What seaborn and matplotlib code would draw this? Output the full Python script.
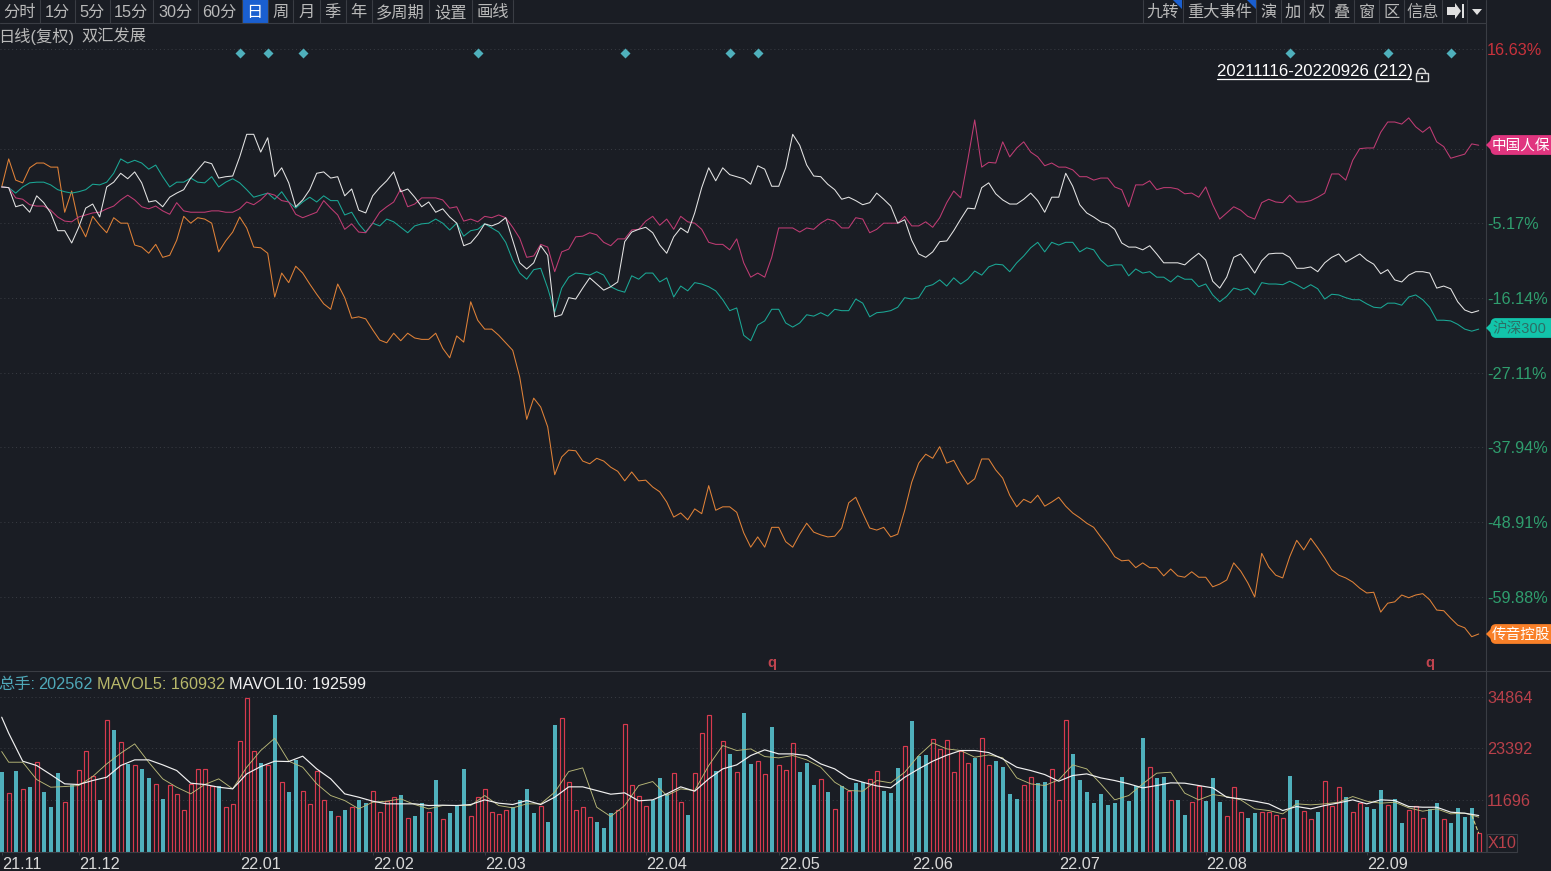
import numpy as np
import pandas as pd
import matplotlib
matplotlib.use("Agg")
import matplotlib.pyplot as plt
import seaborn as sns
from matplotlib.patches import FancyBboxPatch, Polygon, Rectangle, Arc

# cumulative change in percent, one value per trading day
shuanghui = [
    0.1,0.0,-2.8,-2.5,-3.6,-1.2,-2.2,-3.7,-6.3,-6.3,
    -8.1,-5.8,-3.0,-2.4,-4.3,0.1,0.8,2.1,1.3,2.3,
    0.7,-2.1,-1.9,-2.8,-1.4,-0.8,-0.3,1.4,2.6,3.8,
    3.5,1.4,1.6,1.7,4.5,7.8,7.8,5.2,7.3,1.6,
    2.9,0.7,-2.8,-1.8,-0.3,2.1,2.3,1.4,1.6,-1.2,
    -0.2,-3.3,-3.7,-1.2,0.0,1.0,2.3,-0.6,-0.2,-1.4,
    -2.8,-2.1,-3.6,-3.1,-4.3,-5.2,-8.5,-8.1,-6.9,-5.3,
    -5.6,-5.2,-4.4,-7.7,-11.0,-11.9,-11.0,-8.5,-9.9,-18.9,
    -18.6,-16.1,-16.3,-14.7,-13.2,-14.1,-15.0,-14.5,-13.8,-7.9,
    -6.5,-6.1,-5.8,-6.6,-8.4,-9.6,-7.2,-5.9,-6.6,-3.7,
    0.0,2.9,1.0,2.9,1.9,1.6,1.3,0.5,3.2,2.7,
    0.2,0.2,2.9,7.8,6.2,3.3,1.7,1.6,0.5,-0.3,
    -1.7,-1.4,-1.9,-2.5,-2.2,-0.8,-1.7,-2.7,-5.2,-4.7,
    -7.7,-9.7,-10.2,-9.4,-7.9,-7.8,-6.3,-4.6,-3.0,-3.1,
    0.0,0.7,-0.9,-1.8,-2.4,-2.4,-1.7,-0.8,-1.9,-3.6,
    -1.4,-1.4,2.1,0.2,-2.5,-3.7,-4.3,-5.0,-5.3,-6.1,
    -8.1,-8.7,-8.7,-9.1,-8.5,-9.7,-11.0,-11.0,-11.0,-11.3,
    -10.4,-9.6,-10.6,-13.7,-14.7,-13.1,-10.2,-9.7,-11.0,-12.5,
    -10.7,-9.7,-9.6,-9.6,-10.2,-11.8,-11.8,-11.6,-12.3,-11.0,
    -10.2,-9.7,-10.9,-10.3,-9.7,-10.6,-11.2,-12.6,-12.0,-13.5,
    -13.8,-12.8,-12.3,-12.3,-12.5,-14.7,-14.4,-14.8,-16.7,-17.9,-18.3,-18.0,
]
hs300 = [
    0.1,0.0,-0.8,0.1,0.7,0.8,0.8,0.4,-0.3,-0.6,
    -0.8,-0.6,-0.3,0.5,0.4,0.8,2.1,4.2,3.6,4.0,
    3.6,2.7,3.3,1.6,0.1,0.8,0.8,1.4,0.8,0.7,
    1.6,0.1,0.8,1.3,0.7,-0.3,-1.4,-1.1,-0.8,-1.7,
    -0.6,-2.1,-3.0,-2.1,-1.4,-2.1,-1.2,-1.9,-1.9,-4.0,
    -3.6,-5.3,-6.5,-5.2,-5.6,-4.6,-5.0,-5.8,-6.6,-5.6,
    -5.3,-5.2,-4.6,-5.2,-6.2,-5.2,-7.1,-6.3,-6.1,-5.3,
    -5.9,-6.5,-8.0,-10.6,-12.5,-13.4,-12.0,-11.8,-14.7,-18.2,
    -14.7,-13.1,-12.5,-12.6,-12.8,-12.3,-12.8,-14.5,-15.0,-15.3,
    -12.9,-13.4,-12.5,-12.5,-13.8,-13.2,-16.0,-14.4,-15.1,-13.9,
    -14.1,-14.5,-15.1,-16.4,-18.0,-17.6,-21.6,-22.4,-20.1,-19.5,
    -17.8,-17.8,-19.8,-20.4,-19.8,-18.6,-18.8,-18.3,-18.8,-17.8,
    -18.0,-18.0,-16.3,-16.9,-18.9,-18.3,-18.2,-18.0,-17.5,-16.1,
    -16.3,-16.1,-14.5,-14.2,-13.5,-14.4,-13.2,-14.1,-13.4,-12.2,
    -12.8,-11.6,-11.2,-11.3,-12.3,-11.0,-10.0,-8.8,-8.0,-9.4,
    -8.0,-8.4,-8.0,-8.0,-9.4,-8.8,-9.1,-10.6,-11.5,-11.3,
    -11.3,-12.9,-11.9,-12.5,-12.3,-13.1,-13.1,-13.8,-12.9,-13.4,
    -13.4,-14.5,-14.1,-15.7,-16.7,-15.9,-14.7,-15.0,-14.7,-15.7,
    -13.9,-14.1,-14.1,-14.2,-13.7,-14.2,-14.8,-14.2,-14.8,-16.3,
    -15.6,-15.7,-16.1,-16.4,-16.4,-17.0,-17.5,-17.6,-16.9,-16.9,
    -17.2,-16.0,-15.7,-16.4,-17.5,-19.4,-19.4,-19.5,-20.0,-20.7,-21.0,-20.7,
]
picc = [
    0.1,0.0,-1.5,-1.7,-2.5,-2.7,-2.7,-3.3,-4.3,-4.9,
    -5.0,-4.3,-4.0,-3.7,-3.6,-3.1,-2.7,-1.8,-1.1,-1.8,
    -2.8,-3.1,-2.7,-3.4,-3.9,-2.2,-3.4,-3.6,-3.6,-3.6,
    -3.4,-3.4,-3.6,-3.6,-3.1,-2.1,-2.5,-1.8,-0.8,-1.1,
    -1.9,-2.1,-3.9,-4.4,-4.0,-3.6,-1.9,-3.0,-4.0,-6.1,
    -5.3,-6.5,-6.6,-5.2,-3.6,-2.8,-2.1,-0.2,-2.8,-2.4,
    -1.5,-1.5,-1.5,-1.8,-3.0,-2.8,-4.9,-4.6,-5.0,-4.2,
    -4.4,-4.0,-4.4,-5.8,-7.4,-10.2,-10.0,-8.3,-8.7,-12.3,
    -9.4,-9.0,-7.2,-7.1,-6.6,-6.9,-8.0,-8.5,-7.5,-7.5,
    -6.2,-6.1,-4.9,-4.2,-5.5,-4.6,-6.1,-4.2,-5.0,-5.2,
    -6.1,-8.0,-8.3,-8.3,-9.1,-7.5,-11.0,-13.1,-12.5,-13.1,
    -10.2,-5.9,-5.9,-5.9,-6.5,-5.9,-6.1,-5.2,-4.6,-4.9,
    -5.9,-5.9,-4.4,-4.6,-6.6,-6.1,-5.2,-5.2,-5.2,-4.2,
    -5.6,-5.6,-5.0,-5.8,-4.4,-2.2,-0.5,-1.5,4.0,9.9,
    3.0,3.7,3.6,6.7,4.5,5.8,6.7,5.2,4.5,3.2,
    3.6,3.0,3.0,2.6,1.6,1.6,1.1,1.4,1.4,0.1,
    -0.3,-2.8,0.4,0.4,1.0,-0.3,0.0,0.0,-0.2,-0.9,
    -0.8,-1.4,0.1,-2.5,-4.6,-3.7,-2.8,-3.3,-4.2,-4.6,
    -2.2,-1.7,-2.1,-2.2,-1.1,-2.1,-2.1,-1.9,-1.4,-0.8,
    2.0,2.0,1.1,4.0,5.7,5.8,5.8,8.1,9.6,9.6,
    9.3,10.2,8.9,8.1,8.9,6.7,6.0,4.3,4.6,4.9,6.4,6.2,
]
transsion = [
    0.1,4.2,1.1,0.7,2.9,3.6,3.6,3.0,3.0,-3.6,
    -0.5,-5.2,-7.2,-4.2,-5.5,-6.6,-4.4,-5.2,-5.2,-8.4,
    -8.7,-9.6,-8.3,-10.2,-9.9,-7.7,-4.2,-5.2,-4.4,-4.6,
    -5.2,-9.4,-7.8,-6.5,-4.3,-5.9,-8.7,-8.8,-9.6,-16.0,
    -12.5,-13.9,-11.5,-12.5,-14.1,-15.6,-17.0,-17.8,-14.1,-16.1,
    -19.1,-18.9,-19.2,-20.8,-22.3,-22.7,-21.3,-22.4,-21.3,-22.0,
    -22.2,-22.2,-21.3,-23.5,-24.9,-21.7,-22.6,-16.7,-19.4,-20.7,
    -20.7,-21.6,-22.7,-23.8,-27.7,-33.9,-30.8,-32.1,-35.0,-42.0,
    -39.4,-38.4,-38.5,-40.0,-40.4,-39.6,-40.0,-40.9,-41.5,-42.9,
    -41.6,-42.9,-42.8,-43.8,-44.5,-46.0,-48.2,-47.6,-48.6,-47.0,
    -47.7,-43.6,-47.2,-46.7,-46.7,-47.5,-50.5,-52.6,-51.1,-52.6,
    -49.7,-49.7,-51.8,-52.6,-50.7,-49.1,-50.4,-50.8,-51.1,-51.0,
    -49.8,-46.1,-45.3,-47.6,-49.8,-50.1,-49.7,-51.1,-50.7,-47.2,
    -43.1,-40.3,-39.0,-39.6,-37.9,-40.3,-39.9,-41.8,-43.4,-42.6,
    -39.7,-39.7,-41.3,-42.5,-45.0,-46.7,-45.6,-46.1,-45.0,-46.6,
    -46.0,-45.3,-46.6,-47.6,-48.3,-49.1,-49.7,-51.1,-52.4,-54.0,
    -54.6,-54.5,-55.6,-54.9,-55.6,-55.6,-56.8,-55.8,-56.8,-57.0,
    -56.2,-57.0,-57.0,-58.4,-58.0,-57.4,-54.9,-56.1,-57.8,-59.9,
    -53.5,-55.5,-56.7,-57.1,-54.0,-51.6,-53.0,-51.3,-52.7,-54.2,
    -55.9,-56.7,-57.1,-57.7,-58.6,-59.3,-59.2,-62.1,-60.8,-60.6,
    -59.6,-60.0,-59.6,-59.4,-60.3,-61.8,-61.9,-63.0,-64.0,-64.4,-65.7,-65.3,
]

volume = [
    18070,13250,18300,14160,14680,20330,13550,10170,17770,11300,
    15060,18520,22820,17170,11750,29740,27560,24850,19800,19580,
    18750,16720,15360,11970,15140,13100,9490,15360,18670,18670,
    14910,14910,10170,10770,25000,34710,22820,20110,19650,30950,
    15810,13550,20780,13780,10770,18300,11750,9260,8130,9490,
    10170,11750,11070,13700,8960,11370,12420,12880,7680,8130,
    10990,9040,16260,7450,8810,10390,18750,8130,12420,14160,
    9040,8580,9490,10170,11750,14230,8810,10390,6780,28690,
    30200,15810,9490,10170,7910,6780,5420,8810,9490,28920,
    15140,12650,10390,11750,16720,13100,17850,11300,8360,17850,
    26880,30950,18300,25000,22140,18070,31400,19880,20560,17620,
    28240,19650,18520,24620,18070,20110,15140,16490,13550,9710,
    14910,13780,15590,15810,16490,18300,13780,13330,18980,23950,
    29590,21690,21910,25450,23270,25300,18070,22820,20110,21230,
    25750,19650,20560,19200,13100,11970,15140,16940,15590,15810,
    18750,11750,29820,22140,16260,13550,11070,13100,10620,11070,
    16940,11520,14910,25750,19200,16720,16940,11750,11750,8360,
    11300,14910,11520,16720,11300,8130,14610,9040,7680,8810,
    9040,9040,8360,7680,17170,11750,9260,7450,9040,16040,
    10390,14610,12420,9040,11070,10170,9710,14010,10620,11970,
    6330,9490,10390,7680,9710,11070,7450,6550,9940,7910,9940,4070,
]
# r = up day (hollow red), t = down day (filled teal)
bar_dir = list(
    "trtrtrtttr" "trrrtrtrtr" "ttrtrrrrrr" "rtrrrrrtrt" "rttrrrrtrt"
    "rttrrrrtrt" "trtrtttrrr" "rrrttttrtt" "rrrrrtttrr" "rrrtttrrtr"
    "rrtrtrttrr" "trrrtttrtr" "trttrrtttr" "tttrrrrrrt" "rrttttrrtt"
    "rrrttttttt" "ttttrttrtt" "rrtttrrrtt" "rrrrttrrtr" "rrtrrtttrt"
    "trrrttrttttr"
)

# moving averages read every other day: day 0, then 1, 3, 5 ... 211
ma_days = [0] + list(range(1, 212, 2))
mavol10 = [
    30350,26730,20410,19430,17390,15290,15140,16040,16790,19430,20710,20710,19580,18300,15440,15140,
    14530,14160,17540,19200,20410,20330,21540,18670,16420,13030,12270,11370,10770,10770,10770,10390,
    10470,10390,10620,11670,10920,10620,11520,10620,12270,14610,14610,13780,12950,13250,11450,11670,
    13030,14610,13630,16420,18670,19580,21690,22970,22060,22060,21690,19800,18670,16570,15660,14830,
    14380,16790,18670,20410,21760,22820,22820,22360,20930,19050,18300,17390,15890,17170,17540,16640,
    16040,15290,14380,14910,15510,15440,14910,14380,12270,11900,11370,10770,9260,10170,9640,10390,
    10990,11670,10770,11670,11520,10170,10010,10010,8890,8660,8130,
]
mavol5 = [
    22590,20180,20180,16260,14530,14680,14910,16940,19800,22210,24320,20180,16420,14530,13030,15140,
    16420,14160,19050,22820,25600,20410,19050,15290,12650,11520,9640,11140,11370,11900,10620,9640,
    10390,10390,10390,12650,10390,9860,10770,10770,13400,18070,18900,10010,7910,10390,14910,15810,
    12650,14160,13780,19430,23950,22820,23190,21460,21160,21690,20710,19050,15660,13780,13630,16040,
    15510,17920,21690,24550,23190,22820,21310,21840,21160,16640,15290,14910,16190,19580,18670,15290,
    11670,12650,15290,17700,17920,13180,11670,12880,12420,11670,9640,9260,8510,10770,10540,10770,
    11140,12420,11370,10920,11140,9860,9110,9640,8510,8660,7760,
]
ma5_tail_days = [210, 211]
ma5_tail = [8200, 4100]

# signal markers
diamond_days = [34, 38, 43, 68, 89, 104, 108, 184, 198, 207]
q_days = [110, 204]

# axis ticks: the top label sits on the panel's top rule, the one behind the pink tag is covered
pct_ticks = [20.28, 5.65, -5.17, -16.14, -27.11, -37.94, -48.91, -59.88]
pct_labels = ["16.63%", "", "-5.17%", "-16.14%", "-27.11%", "-37.94%", "-48.91%", "-59.88%"]
vol_ticks = [11696, 23392, 34864]
vol_labels = ["11696", "23392", "34864"]
month_days = [0, 11, 34, 53, 69, 92, 111, 130, 151, 172, 195]
month_labels = ["21.11", "21.12", "22.01", "22.02", "22.03", "22.04", "22.05", "22.06", "22.07", "22.08", "22.09"]

tabs_left = ["分时", "1分", "5分", "15分", "30分", "60分", "日", "周", "月", "季", "年", "多周期", "设置", "画线"]
tabs_left_edges = [0, 39.5, 74.5, 109.5, 153, 197.5, 241.5, 267.5, 293, 319.5, 345.5, 371.5, 429, 471.5, 513]
tabs_right = ["九转", "重大事件", "演", "加", "权", "叠", "窗", "区", "信息", "", ""]
tabs_right_edges = [1143, 1182.5, 1256, 1280.5, 1304, 1329, 1354, 1379, 1404, 1442, 1467, 1486]

BG = "#1a1d24"
LINE = "#3a3d44"
GREY = "#b9b9b9"
RED = "#c8323c"
GREEN = "#2f9e6e"
TEAL_BAR = "#4fb0bc"
RED_BAR = "#d83a4e"
series_colors = {"传音控股": "#e08238", "沪深300": "#1aa896", "中国人保": "#c03c74", "双汇发展": "#e4e4e4"}

sns.set_theme(style="dark", rc={"figure.facecolor": BG, "axes.facecolor": BG, "savefig.facecolor": BG})
plt.rcParams["font.family"] = ["Liberation Sans", "Noto Sans CJK SC", "DejaVu Sans"]
FS = 11.7

W, H = 1551, 871
fig = plt.figure(figsize=(W / 100, H / 100), dpi=100)
ax = fig.add_axes([0, (H - 671) / H, 1486 / W, (671 - 24) / H])
ax_vol = fig.add_axes([0, (H - 851.5) / H, 1486 / W, (851.5 - 671) / H])
xlim = (-0.243, 212.04)

df = pd.DataFrame({
    "day": np.tile(np.arange(212), 4),
    "pct": transsion + hs300 + picc + shuanghui,
    "stock": ["传音控股"] * 212 + ["沪深300"] * 212 + ["中国人保"] * 212 + ["双汇发展"] * 212,
})
sns.lineplot(data=df, x="day", y="pct", hue="stock", palette=series_colors, hue_order=list(series_colors),
             estimator=None, legend=False, linewidth=0.75, ax=ax)
sns.scatterplot(x=diamond_days, y=[19.7] * len(diamond_days), marker="D", s=26, color=TEAL_BAR, linewidth=0, ax=ax)
for d in q_days:
    ax.text(d, -69.55, "q", color="#c0444f", fontsize=10.5, fontweight="bold", ha="center", va="center")

ax.set_xlim(xlim)
ax.set_ylim(27.45 - 0.1463 * 671, 27.45 - 0.1463 * 24)
ax.set_xticks([])
ax.yaxis.tick_right()
ax.set_yticks(pct_ticks)
ax.set_yticklabels(pct_labels, fontsize=FS)
for lab, val in zip(ax.get_yticklabels(), pct_ticks):
    lab.set_color(RED if val > 0 else GREEN)
ax.tick_params(axis="y", length=0, pad=0.8)
ax.grid(axis="y", color=LINE, linestyle=(0, (1, 3)), linewidth=0.7)
ax.set_axisbelow(True)
ax.set_xlabel("")
ax.set_ylabel("")

vol_df = pd.DataFrame({"day": np.arange(212), "vol": volume, "dir": bar_dir})
sns.barplot(data=vol_df[vol_df["dir"] == "t"], x="day", y="vol", native_scale=True, width=0.55, color=TEAL_BAR,
            saturation=1, linewidth=0, errorbar=None, ax=ax_vol)
sns.barplot(data=vol_df[vol_df["dir"] == "r"], x="day", y="vol", native_scale=True, width=0.6, color=RED_BAR,
            saturation=1, fill=False, linewidth=0.85, errorbar=None, ax=ax_vol)
sns.lineplot(x=ma_days, y=mavol5, color="#b8b878", linewidth=0.65, ax=ax_vol)
sns.lineplot(x=ma5_tail_days, y=ma5_tail, color="#d8d080", linewidth=0.8, linestyle="--", ax=ax_vol)
sns.lineplot(x=ma_days, y=mavol10, color="#f0f0f0", linewidth=0.85, ax=ax_vol)

ax_vol.set_xlim(xlim)
ax_vol.set_ylim(0, 40793)
ax_vol.yaxis.tick_right()
ax_vol.set_yticks(vol_ticks)
ax_vol.set_yticklabels(vol_labels, fontsize=FS, color="#b8404a")
ax_vol.set_xticks(month_days)
ax_vol.set_xticklabels(month_labels, fontsize=FS, color="#d8d8d8", ha="left")
ax_vol.tick_params(axis="y", length=0, pad=0.8)
ax_vol.tick_params(axis="x", length=2.5, width=0.7, color=LINE, pad=1.5, bottom=True)
ax_vol.grid(axis="y", color=LINE, linestyle=(0, (1, 3)), linewidth=0.7)
ax_vol.grid(axis="x", visible=False)
ax_vol.set_axisbelow(True)
ax_vol.set_xlabel("")
ax_vol.set_ylabel("")

for a in (ax, ax_vol):
    for side, sp in a.spines.items():
        sp.set_visible(side == "right" or (a is ax_vol and side == "bottom"))
        sp.set_color(LINE)
        sp.set_linewidth(0.8)

# screen furniture drawn in pixel coordinates
ov = fig.add_axes([0, 0, 1, 1], zorder=5)
ov.set_xlim(0, W)
ov.set_ylim(H, 0)
ov.axis("off")
ov.patch.set_alpha(0)

ov.plot([0, 1486], [23.5, 23.5], color=LINE, lw=0.8)
ov.plot([0, W], [671, 671], color=LINE, lw=0.8)
for labels, edges in ((tabs_left, tabs_left_edges), (tabs_right, tabs_right_edges)):
    for name, x0, x1 in zip(labels, edges[:-1], edges[1:]):
        if name == "日":
            ov.add_patch(Rectangle((x0, 0), x1 - x0, 23, color="#1a5fd0", lw=0))
        ov.plot([x1, x1], [0, 23.5], color=LINE, lw=0.8)
        ov.text((x0 + x1) / 2, 12.5, name, color="white" if name == "日" else GREY, fontsize=FS, ha="center", va="center")
ov.plot([1143, 1143], [0, 23.5], color=LINE, lw=0.8)
for x1 in (1182, 1256):
    ov.add_patch(Polygon([(x1 - 9, 0), (x1, 0), (x1, 9)], color="#1a5fd0", lw=0))
ov.add_patch(Polygon([(1447, 7), (1455, 7), (1455, 3), (1461, 11), (1455, 19), (1455, 15), (1447, 15)], color="#e0e0e0", lw=0))
ov.add_patch(Rectangle((1462, 4), 2, 14, color="#e0e0e0", lw=0))
ov.add_patch(Polygon([(1472, 9), (1482, 9), (1477, 15)], color="#e0e0e0", lw=0))

ov.text(-1.5, 36.5, "日线(复权)", color=GREY, fontsize=FS, ha="left", va="center")
ov.text(81, 36.5, "双汇发展", color=GREY, fontsize=FS, ha="left", va="center")

ov.text(1217, 71.5, "20211116-20220926 (212)", color="white", fontsize=12.1, ha="left", va="center")
ov.plot([1217, 1411], [79.5, 79.5], color="white", lw=0.9)
ov.add_patch(Rectangle((1415.5, 73), 12, 8.5, fill=False, ec="#d8d8d8", lw=1))
ov.add_patch(Arc((1421.5, 73), 8, 9, theta1=180, theta2=360, ec="#d8d8d8", lw=1))
ov.add_patch(Rectangle((1420.5, 76), 2, 3, color="#d8d8d8", lw=0))

ov.text(-1.5, 684.5, "总手:", color="#4fa8b8", fontsize=FS, ha="left", va="center")
ov.text(38, 684.5, "202562", color="#4fa8b8", fontsize=FS, ha="left", va="center")
ov.text(97, 684.5, "MAVOL5: 160932", color="#b8b86a", fontsize=FS, ha="left", va="center")
ov.text(229, 684.5, "MAVOL10: 192599", color="#f0f0f0", fontsize=FS, ha="left", va="center")

ov.add_patch(Rectangle((1487, 834), 30, 18, fill=False, ec=LINE, lw=0.8))
ov.text(1488, 843.5, "X10", color="#b8404a", fontsize=FS, ha="left", va="center")

for name, y, fc, tc in (("中国人保", 145, "#e0357f", "white"), ("沪深300", 328, "#12c4aa", "#2c6f66"), ("传音控股", 634, "#f98028", "white")):
    ov.add_patch(FancyBboxPatch((1492, y - 8.5), 70, 17, boxstyle="round,pad=0,rounding_size=4", fc=fc, ec=fc, lw=2, clip_on=True))
    ov.add_patch(Polygon([(1486, y), (1491, y - 5), (1491, y + 5)], color=fc, lw=0))
    ov.text(1492, y + 1, name, color=tc, fontsize=10.5, ha="left", va="center")

fig.savefig("out.png", dpi=100)
